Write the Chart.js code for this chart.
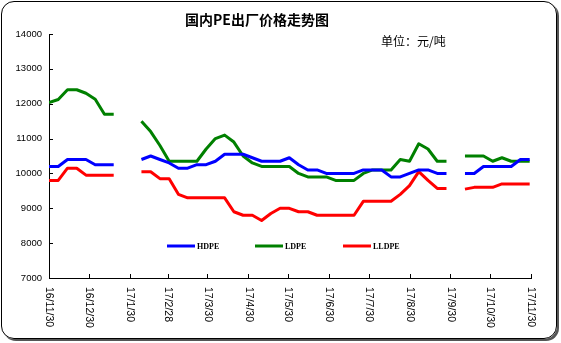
<!DOCTYPE html>
<html>
<head>
<meta charset="utf-8">
<script src="https://cdn.jsdelivr.net/npm/chart.js@4.4.0/dist/chart.umd.min.js"></script>
<style>
  html, body { margin: 0; padding: 0; background: #fff; }
  #wrap { position: relative; width: 561px; height: 343px; }
  #frame {
    position: absolute; left: 1px; top: 1px; width: 556px; height: 338px;
    box-sizing: border-box; border: 1.5px solid #000; border-radius: 13px;
    box-shadow: 2px 2px 0 #555;
  }
  canvas { position: absolute; left: 0; top: 0; }
</style>
</head>
<body>
<div id="wrap">
  <div id="frame"></div>
  <canvas id="chart" width="561" height="343"></canvas>
</div>
<script>
// weekly quotes, null = no quote (holidays)
const dates = [
  "2016-11-30", "2016-12-07", "2016-12-14", "2016-12-21", "2016-12-28",
  "2017-01-04", "2017-01-11", "2017-01-18", "2017-01-25", "2017-02-01",
  "2017-02-08", "2017-02-15", "2017-02-22", "2017-03-01", "2017-03-08",
  "2017-03-15", "2017-03-22", "2017-03-29", "2017-04-05", "2017-04-12",
  "2017-04-19", "2017-04-26", "2017-05-03", "2017-05-10", "2017-05-17",
  "2017-05-24", "2017-05-31", "2017-06-07", "2017-06-14", "2017-06-21",
  "2017-06-28", "2017-07-05", "2017-07-12", "2017-07-19", "2017-07-26",
  "2017-08-02", "2017-08-09", "2017-08-16", "2017-08-23", "2017-08-30",
  "2017-09-06", "2017-09-13", "2017-09-20", "2017-09-27", "2017-10-04",
  "2017-10-11", "2017-10-18", "2017-10-25", "2017-11-01", "2017-11-08",
  "2017-11-15", "2017-11-22", "2017-11-29"
];

const hdpe = [
  10200, 10200, 10400, 10400, 10400, 10250, 10250, 10250, null, null,
  10400, 10500, 10400, 10300, 10150, 10150, 10250, 10250, 10350, 10550,
  10550, 10550, 10450, 10350, 10350, 10350, 10450, 10250, 10100, 10100,
  10000, 10000, 10000, 10000, 10100, 10100, 10100, 9900, 9900, 10000,
  10100, 10100, 10000, 10000, null, 10000, 10000, 10200, 10200, 10200,
  10200, 10400, 10400
];

const ldpe = [
  12030, 12120, 12400, 12400, 12300, 12130, 11700, 11700, null, null,
  11500, 11200, 10800, 10350, 10350, 10350, 10350, 10700, 11000, 11100,
  10900, 10500, 10300, 10200, 10200, 10200, 10200, 10000, 9900, 9900,
  9900, 9800, 9800, 9800, 10000, 10100, 10100, 10100, 10400, 10350,
  10850, 10700, 10350, 10350, null, 10500, 10500, 10500, 10350, 10450,
  10350, 10350, 10350
];

const lldpe = [
  9800, 9800, 10150, 10150, 9950, 9950, 9950, 9950, null, null,
  10050, 10050, 9850, 9850, 9400, 9300, 9300, 9300, 9300, 9300,
  8900, 8800, 8800, 8650, 8850, 9000, 9000, 8900, 8900, 8800,
  8800, 8800, 8800, 8800, 9200, 9200, 9200, 9200, 9400, 9650,
  10050, 9800, 9570, 9570, null, 9550, 9600, 9600, 9600, 9700,
  9700, 9700, 9700
];

const tickDates = [
  "2016-11-30", "2016-12-30", "2017-01-30", "2017-02-28", "2017-03-30",
  "2017-04-30", "2017-05-30", "2017-06-30", "2017-07-30", "2017-08-30",
  "2017-09-30", "2017-10-30", "2017-11-30"
];
const tickLabels = [
  "16/11/30", "16/12/30", "17/1/30", "17/2/28", "17/3/30", "17/4/30",
  "17/5/30", "17/6/30", "17/7/30", "17/8/30", "17/9/30", "17/10/30", "17/11/30"
];

// days since first tick
function dayOf(s) {
  const [y, m, d] = s.split("-").map(Number);
  return (Date.UTC(y, m - 1, d) - Date.UTC(2016, 10, 30)) / 864e5;
}

const toPoints = (vals) => vals.map((v, i) => ({ x: dayOf(dates[i]), y: v }));
const tickDays = tickDates.map(dayOf);

// inner tick marks, rotated date labels, legend, titles
const decor = {
  id: "decor",
  afterDraw(chart) {
    const ctx = chart.ctx;
    const xs = chart.scales.x;
    const ys = chart.scales.y;
    const area = chart.chartArea;
    ctx.save();

    ctx.strokeStyle = "#000";
    ctx.lineWidth = 1;
    ctx.beginPath();
    ys.ticks.forEach((t) => {
      const py = Math.round(ys.getPixelForValue(t.value)) + 0.5;
      ctx.moveTo(area.left, py);
      ctx.lineTo(area.left + 4, py);
    });
    xs.ticks.forEach((t) => {
      const px = Math.round(xs.getPixelForValue(t.value)) + 0.5;
      ctx.moveTo(px, area.bottom);
      ctx.lineTo(px, area.bottom - 4);
    });
    ctx.stroke();

    ctx.fillStyle = "#000";
    ctx.font = '10.5px "Liberation Sans"';
    ctx.textAlign = "left";
    ctx.textBaseline = "middle";
    xs.ticks.forEach((t, i) => {
      ctx.save();
      ctx.translate(xs.getPixelForValue(t.value), area.bottom + 9);
      ctx.rotate(Math.PI / 2);
      ctx.fillText(tickLabels[i], 0, 0);
      ctx.restore();
    });

    // legend
    const legendX = [167, 255, 343];
    const legendY = 246;
    ctx.font = 'bold 8px "Liberation Serif"';
    chart.data.datasets.forEach((ds, i) => {
      ctx.strokeStyle = ds.borderColor;
      ctx.lineWidth = 3;
      ctx.beginPath();
      ctx.moveTo(legendX[i], legendY);
      ctx.lineTo(legendX[i] + 28, legendY);
      ctx.stroke();
      ctx.fillText(ds.label, legendX[i] + 30, legendY + 0.5);
    });

    ctx.textAlign = "center";
    ctx.font = 'bold 14px "Noto Sans CJK SC"';
    ctx.fillText("国内PE出厂价格走势图", 257, 20);
    ctx.textAlign = "left";
    ctx.font = '12px "Noto Sans CJK SC"';
    ctx.fillText("单位：元/吨", 381, 41);

    ctx.restore();
  },
};

const lineStyle = {
  borderWidth: 3,
  pointRadius: 0,
  tension: 0,
  spanGaps: false,
  borderJoinStyle: "round",
  fill: false,
};

new Chart(document.getElementById("chart"), {
  type: "line",
  data: {
    datasets: [
      { label: "HDPE", data: toPoints(hdpe), borderColor: "#0000ff", ...lineStyle },
      { label: "LDPE", data: toPoints(ldpe), borderColor: "#008000", ...lineStyle },
      { label: "LLDPE", data: toPoints(lldpe), borderColor: "#ff0000", ...lineStyle },
    ],
  },
  options: {
    responsive: false,
    animation: false,
    events: [],
    layout: { padding: { top: 34, right: 30, bottom: 0, left: 0 } },
    plugins: {
      legend: { display: false },
      tooltip: { enabled: false },
    },
    scales: {
      x: {
        type: "linear",
        min: 0,
        max: tickDays[tickDays.length - 1],
        afterBuildTicks: (scale) => {
          scale.ticks = tickDays.map((v) => ({ value: v }));
        },
        afterFit: (scale) => {
          scale.height = 65;
        },
        grid: { display: false, drawTicks: false },
        border: { display: true, color: "#000", width: 1 },
        ticks: { display: false },
      },
      y: {
        min: 7000,
        max: 14000,
        afterFit: (scale) => {
          scale.width = 49;
        },
        grid: { display: false, drawTicks: false },
        border: { display: true, color: "#000", width: 1 },
        ticks: {
          stepSize: 1000,
          padding: 7,
          color: "#000",
          font: { family: "Liberation Sans", size: 9.5 },
          callback: (v) => String(v),
        },
      },
    },
  },
  plugins: [decor],
});
</script>
</body>
</html>
